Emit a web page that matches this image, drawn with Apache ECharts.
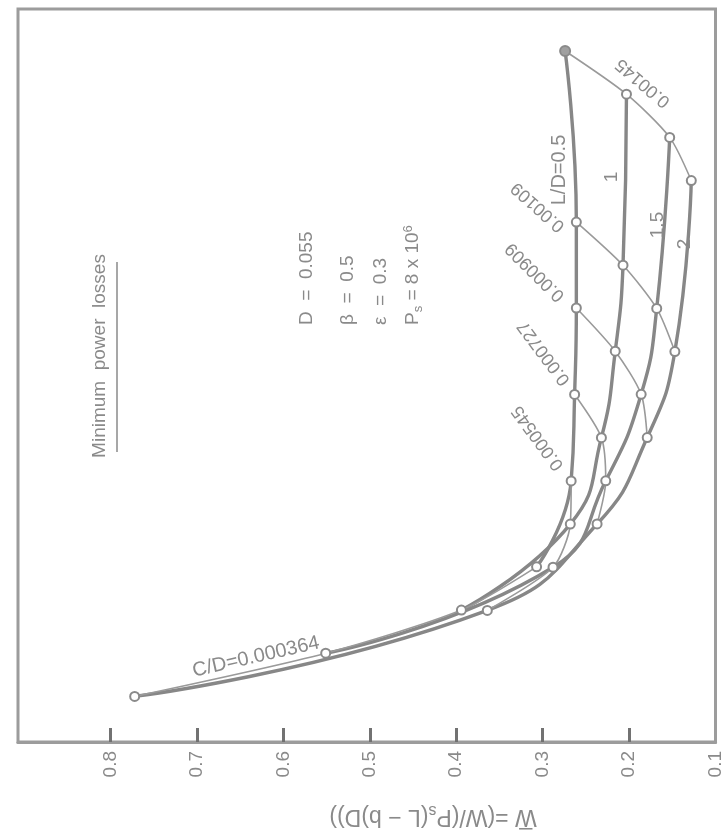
<!DOCTYPE html>
<html>
<head>
<meta charset="utf-8">
<script src="https://cdn.jsdelivr.net/npm/echarts@6/dist/echarts.min.js"></script>
<style>
  html, body { margin: 0; padding: 0; background: #ffffff; }
  #chart { width: 725px; height: 837px; }
</style>
</head>
<body>
<div id="chart"></div>
<script>
// Carpet plot: dimensionless load W̄ against clearance ratio C/D and length ratio L/D.
const CD = [0.000364, 0.000545, 0.000727, 0.000909, 0.00109, 0.00145];
const CD_LABELS = ['0.000364', '0.000545', '0.000727', '0.000909', '0.00109', '0.00145'];
const LD = [0.5, 1, 1.5, 2];
const LD_LABELS = ['L/D=0.5', '1', '1.5', '2'];

// W̄ for each L/D, one value per C/D above
const W_LD05 = [0.307, 0.267, 0.263, 0.261, 0.261, 0.274];
const W_LD10 = [0.394, 0.268, 0.232, 0.216, 0.207, 0.203];
const W_LD15 = [0.551, 0.288, 0.227, 0.186, 0.168, 0.153];
const W_LD20 = [0.772, 0.364, 0.237, 0.179, 0.147, 0.128];
const W_BY_LD = [W_LD05, W_LD10, W_LD15, W_LD20];

const W_TICKS = [0.1, 0.2, 0.3, 0.4, 0.5, 0.6, 0.7, 0.8];

// carpet offset: each L/D step shifts the C/D grid by half a C/D step
const CARPET_SHIFT = 1.818;
function carpet(cd, ld) { return cd * 1e4 - CARPET_SHIFT * ld; }

const Y_MIN = -0.956;
const Y_MAX = 14.476;

const INK = '#8a8a8a';
const FONT = '"Liberation Sans", "DejaVu Sans", sans-serif';

const series = [];
// thick constant-L/D curves
LD.forEach((ld, j) => {
  series.push({
    type: 'line',
    name: 'L/D ' + ld,
    smooth: 0.5,
    showSymbol: false,
    symbol: 'none',
    lineStyle: { color: '#878787', width: 3.4 },
    data: CD.map((cd, i) => [W_BY_LD[j][i], carpet(cd, ld)]),
    z: 2
  });
});
// thin constant-C/D lines with open markers
CD.forEach((cd, i) => {
  series.push({
    type: 'line',
    name: 'C/D ' + CD_LABELS[i],
    smooth: 0.25,
    symbol: 'circle',
    symbolSize: 9,
    itemStyle: { color: '#ffffff', borderColor: '#8a8a8a', borderWidth: 2 },
    lineStyle: { color: '#9a9a9a', width: 1.6 },
    data: LD.map((ld, j) => {
      const p = { value: [W_BY_LD[j][i], carpet(cd, ld)] };
      if (i === CD.length - 1 && j === 0) {
        p.itemStyle = { color: '#a0a0a0', borderColor: '#8a8a8a', borderWidth: 2 };
        p.symbolSize = 10;
      }
      return p;
    }),
    z: 3
  });
});

function txt(text, x, y, rot, size, align) {
  const a = align || 'center';
  return {
    type: 'text', x: x, y: y, rotation: rot,
    style: {
      text: text, fill: INK, font: size + 'px ' + FONT,
      align: a, verticalAlign: 'middle',
      textAlign: a, textVerticalAlign: 'middle'
    },
    z: 10
  };
}

const rich = {
  sub: { fontSize: 13, fill: INK, fontFamily: FONT, verticalAlign: 'bottom', padding: [9, 0, 0, 0] },
  sup: { fontSize: 13, fill: INK, fontFamily: FONT, verticalAlign: 'top', padding: [0, 0, 10, 0] }
};

const R90 = Math.PI / 2;
const psLine = txt('P{sub|s} = 8 x 10{sup|6}', 413, 325, R90, 19, 'left');
psLine.style.rich = rich;
const axisTitle = txt('W\u0305 =(W/(P{sub|s}(L \u2212 b)D))', 433, 816, Math.PI, 23);
axisTitle.style.rich = Object.assign({}, rich, {
  sub: Object.assign({}, rich.sub, { fontSize: 16, padding: [11, 0, 0, 0] })
});

const graphics = [
  // title with underline
  txt('Minimum  power  losses', 100, 356, R90, 19),
  { type: 'line', shape: { x1: 117, y1: 262, x2: 117, y2: 452 }, style: { stroke: INK, lineWidth: 1.5 }, z: 10 },
  // parameters, left-aligned at the lower end when read upward
  txt('D  =  0.055', 307, 325, R90, 19, 'left'),
  txt('\u03B2  =  0.5', 348, 325, R90, 19, 'left'),
  txt('\u03B5  =  0.3', 381, 325, R90, 19, 'left'),
  psLine,
  // L/D labels
  txt(LD_LABELS[0], 559, 170, R90, 20),
  txt(LD_LABELS[1], 612, 177, R90, 19),
  txt(LD_LABELS[2], 658, 225, R90, 19),
  txt(LD_LABELS[3], 685, 244, R90, 19),
  // C/D labels
  txt('C/D=' + CD_LABELS[0], 256, 657, 0.222, 20),
  txt(CD_LABELS[1], 538, 438, 2.2, 18),
  txt(CD_LABELS[2], 544, 353, 2.21, 18),
  txt(CD_LABELS[3], 535, 272, 2.36, 18),
  txt(CD_LABELS[4], 538, 207, 2.41, 18),
  txt(CD_LABELS[5], 643, 83, 2.436, 18),
  // axis title (drawn upside down)
  axisTitle
];

const chart = echarts.init(document.getElementById('chart'));
chart.setOption({
  animation: false,
  backgroundColor: '#ffffff',
  grid: {
    left: 18, right: 9, top: 9, bottom: 95,
    show: true, borderColor: '#9c9c9c', borderWidth: 3, backgroundColor: 'transparent'
  },
  xAxis: {
    type: 'value',
    inverse: true,
    min: 0.1,
    max: 0.907,
    interval: 0.1,
    axisLine: { show: true, onZero: false, lineStyle: { color: '#9c9c9c', width: 3 } },
    axisTick: {
      show: true, inside: true, length: 14,
      customValues: W_TICKS.slice(1),
      lineStyle: { color: '#727272', width: 3 }
    },
    axisLabel: {
      show: true, rotate: 90, margin: 9,
      customValues: W_TICKS,
      formatter: v => v.toFixed(1),
      color: INK, fontSize: 19, fontFamily: FONT
    },
    splitLine: { show: false }
  },
  yAxis: {
    type: 'value',
    min: Y_MIN,
    max: Y_MAX,
    show: false,
    axisLine: { show: false, onZero: false },
    splitLine: { show: false }
  },
  series: series,
  graphic: graphics
});
</script>
</body>
</html>
